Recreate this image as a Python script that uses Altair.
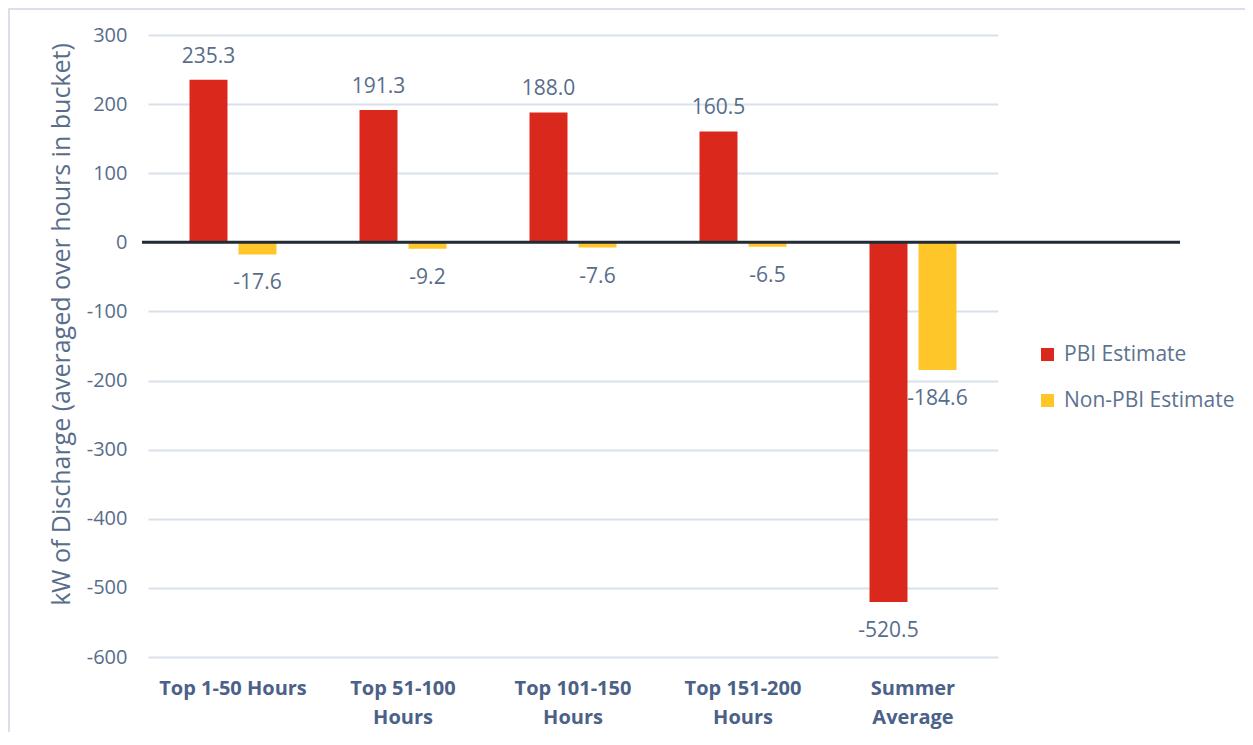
import altair as alt
import pandas as pd

categories = ["Top 1-50 Hours", "Top 51-100|Hours", "Top 101-150|Hours", "Top 151-200|Hours", "Summer|Average"]
series = ["PBI Estimate", "Non-PBI Estimate"]
pbi_values = [235.3, 191.3, 188.0, 160.5, -520.5]
nonpbi_values = [-17.6, -9.2, -7.6, -6.5, -184.6]
y_ticks = [-600, -500, -400, -300, -200, -100, 0, 100, 200, 300]
colors = ["#DA291C", "#FFC629"]

rows = []
for c, a, b in zip(categories, pbi_values, nonpbi_values):
    rows.append({"cat": c, "series": series[0], "value": a})
    rows.append({"cat": c, "series": series[1], "value": b})
df = pd.DataFrame(rows)

FONT = "Open Sans"
TXT = "#586D8B"

x = alt.X("cat:N", sort=categories, title=None,
          scale=alt.Scale(paddingInner=0, paddingOuter=0),
          axis=alt.Axis(labelExpr="split(datum.label, '|')", labelAngle=0,
                        labelFont=FONT, labelFontSize=20, labelFontWeight="bold",
                        labelColor="#4B6187", labelPadding=21, labelLineHeight=29,
                        ticks=False, domain=False, grid=False, labelBaseline="top"))
xo = alt.XOffset("series:N", sort=series,
                 scale=alt.Scale(paddingInner=0.2245, paddingOuter=0.847))
y = alt.Y("value:Q", title="kW of Discharge (averaged over hours in bucket)",
          scale=alt.Scale(domain=[-600, 300], nice=False),
          axis=alt.Axis(values=y_ticks, labelExpr="replace(format(datum.value, 'd'), '\u2212', '-')",
                        labelFont=FONT, labelFontSize=20,
                        labelColor=TXT, labelPadding=21, ticks=False, domain=False,
                        gridColor="#D9E1EA", gridWidth=2,
                        titleFont=FONT, titleFontSize=25, titleFontWeight="normal",
                        titleColor=TXT, titleX=-87, titleY=289, titleLimit=800,
                        titleAlign="center", titleBaseline="middle"))
color = alt.Color("series:N", sort=series,
                  scale=alt.Scale(domain=series, range=colors),
                  legend=alt.Legend(title=None, orient="none", legendX=889, legendY=309,
                                    symbolType="square", symbolSize=170,
                                    symbolStrokeWidth=0, labelFont=FONT,
                                    labelFontSize=21, labelColor="#5D7290", labelLimit=400,
                                    rowPadding=24, labelOffset=6))

base = alt.Chart(df).transform_calculate(
    label="replace(format(datum.value, '.1f'), '\u2212', '-')"
)

one = "datum.series == 'PBI Estimate' && datum.cat == 'Top 1-50 Hours'"

border = base.mark_rect(fill="transparent", stroke="#DAE0EA", strokeWidth=2, clip=False).encode(
    x=alt.value(-139), x2=alt.value(1120), y=alt.value(-26), y2=alt.value(730)
).transform_filter(one)

bars = base.mark_bar().encode(x=x, xOffset=xo, y=y, color=color)

zero = base.mark_rule(color="#222B35", strokeWidth=3, clip=False).encode(
    y=alt.datum(0), x=alt.value(-6), x2=alt.value(1032)
).transform_filter(one)

pos_text = base.mark_text(font=FONT, fontSize=21, color=TXT, baseline="alphabetic", dy=-17).encode(
    x=x, xOffset=xo, y=y, text="label:N"
).transform_filter("datum.value >= 0")

neg_text = base.mark_text(font=FONT, fontSize=21, color=TXT, baseline="alphabetic", dy=35).encode(
    x=x, xOffset=xo, y=y, text="label:N"
).transform_filter("datum.value < 0")

chart = alt.layer(border, bars, zero, pos_text, neg_text).properties(
    width=850, height=622,
    background="white",
    autosize=alt.AutoSizeParams(type="none"),
    padding={"left": 140, "top": 27, "right": 247, "bottom": 75},
).configure_view(strokeWidth=0, stroke="transparent")

chart.save("out.html", embed_options={"renderer": "svg", "actions": False})
